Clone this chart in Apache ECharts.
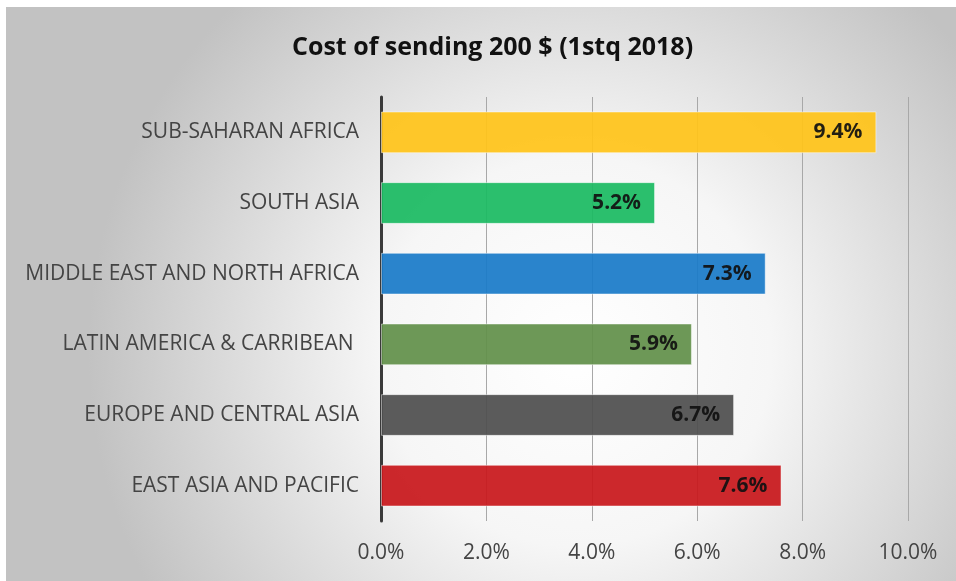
<!DOCTYPE html>
<html><head><meta charset="utf-8">
<script src="https://cdn.jsdelivr.net/npm/echarts@6/dist/echarts.min.js"></script>
<style>html,body{margin:0;padding:0;background:#fff}#c{width:956px;height:581px}</style>
</head><body><div id="c"></div>
<script>
const categories = ["EAST ASIA AND PACIFIC","EUROPE AND CENTRAL ASIA","LATIN AMERICA & CARRIBEAN ","MIDDLE EAST AND NORTH AFRICA","SOUTH ASIA","SUB-SAHARAN AFRICA"];
const values = [7.6, 6.7, 5.9, 7.3, 5.2, 9.4];
const barColors = ["#C8181C","#4F4F4F","#62904A","#1A7BC8","#1BBA62","#FFC41A"];
const tickLabels = ["0.0%","2.0%","4.0%","6.0%","8.0%","10.0%"];
const titleText = "Cost of sending 200 $ (1stq 2018)";
const FONT = "'Open Sans',sans-serif";

const chart = echarts.init(document.getElementById('c'));
chart.setOption({
  animation:false,
  graphic:[{type:'rect',z:-10,shape:{x:6,y:7,width:950,height:574},
    style:{fill:{type:'radial',x:0.6,y:0.6,r:0.85,colorStops:[{offset:0,color:'#ffffff'},{offset:0.4,color:'#f6f6f6'},{offset:1,color:'#c2c2c2'}]}}}],
  title:{text:titleText,left:287,top:30,textStyle:{fontFamily:FONT,fontWeight:'bold',fontSize:25,color:'#111'}},
  grid:{left:381,right:48,top:97,bottom:60,containLabel:false},
  xAxis:{type:'value',min:0,max:10,interval:2,
    axisLine:{show:false},axisTick:{show:false},
    splitLine:{show:true,lineStyle:{color:'#a8a8a8',width:1}},
    axisLabel:{margin:22,fontSize:21,color:'#444',fontFamily:FONT,formatter:(v)=>tickLabels[Math.round(v/2)]}},
  yAxis:{type:'category',data:categories,
    axisLine:{show:true,lineStyle:{color:'#3a3a3a',width:3}},axisTick:{show:false},
    axisLabel:{margin:22,fontSize:21,color:'#444',fontFamily:FONT}},
  series:[{type:'bar',barCategoryGap:'41%',
    data:values.map((v,i)=>({value:v,itemStyle:{color:barColors[i],opacity:0.93,borderColor:'rgba(255,255,255,0.5)',borderWidth:1}})),
    label:{show:true,position:'insideRight',distance:14,formatter:(p)=>p.value.toFixed(1)+'%',
      fontFamily:FONT,fontWeight:'bold',fontSize:21,color:'#111'}}]
});
</script></body></html>
